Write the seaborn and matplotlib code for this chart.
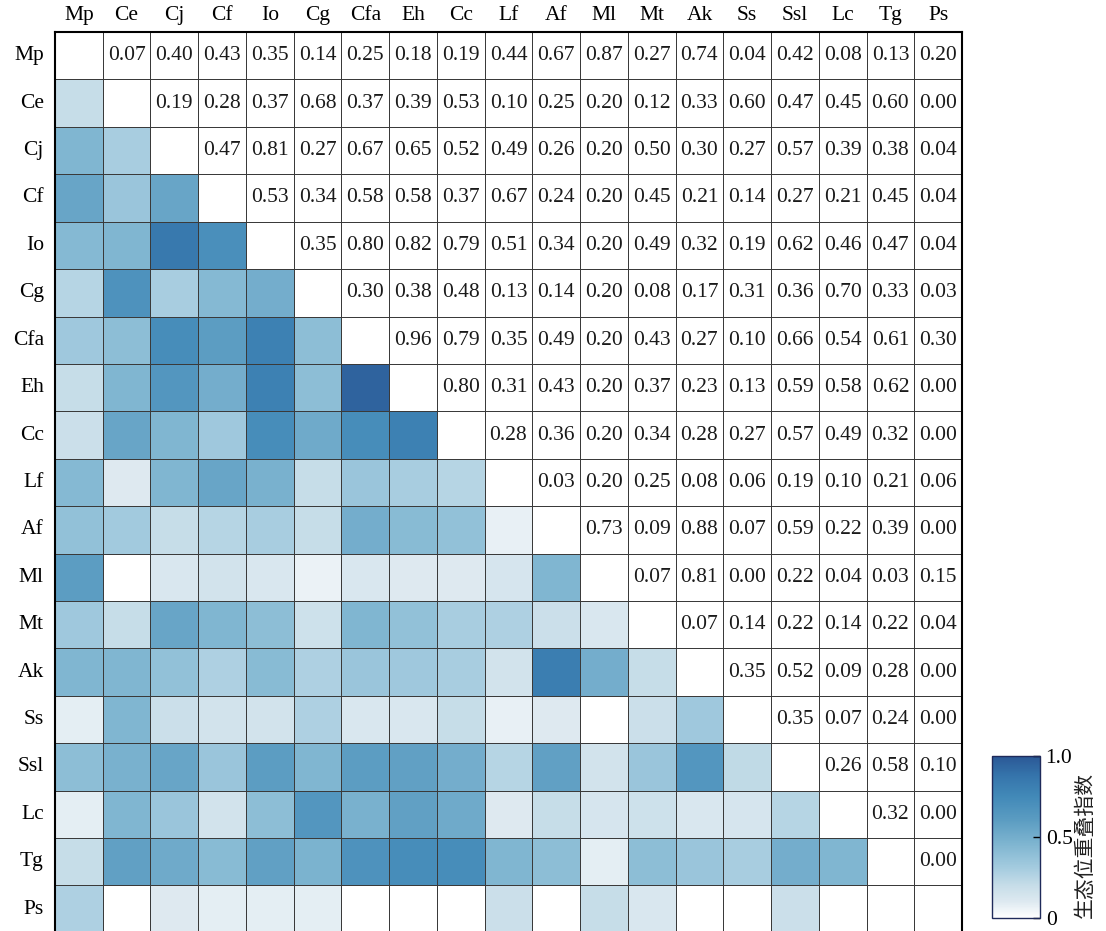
import numpy as np
import seaborn as sns
import matplotlib.pyplot as plt
from matplotlib.colors import LinearSegmentedColormap

# species codes (rows and columns)
species = ["Mp", "Ce", "Cj", "Cf", "Io", "Cg", "Cfa", "Eh", "Cc", "Lf",
           "Af", "Ml", "Mt", "Ak", "Ss", "Ssl", "Lc", "Tg", "Ps"]

# upper triangle: printed overlap values (row i, columns i+1..)
upper_rows = [
    [0.07, 0.40, 0.43, 0.35, 0.14, 0.25, 0.18, 0.19, 0.44, 0.67, 0.87, 0.27, 0.74, 0.04, 0.42, 0.08, 0.13, 0.20],
    [0.19, 0.28, 0.37, 0.68, 0.37, 0.39, 0.53, 0.10, 0.25, 0.20, 0.12, 0.33, 0.60, 0.47, 0.45, 0.60, 0.00],
    [0.47, 0.81, 0.27, 0.67, 0.65, 0.52, 0.49, 0.26, 0.20, 0.50, 0.30, 0.27, 0.57, 0.39, 0.38, 0.04],
    [0.53, 0.34, 0.58, 0.58, 0.37, 0.67, 0.24, 0.20, 0.45, 0.21, 0.14, 0.27, 0.21, 0.45, 0.04],
    [0.35, 0.80, 0.82, 0.79, 0.51, 0.34, 0.20, 0.49, 0.32, 0.19, 0.62, 0.46, 0.47, 0.04],
    [0.30, 0.38, 0.48, 0.13, 0.14, 0.20, 0.08, 0.17, 0.31, 0.36, 0.70, 0.33, 0.03],
    [0.96, 0.79, 0.35, 0.49, 0.20, 0.43, 0.27, 0.10, 0.66, 0.54, 0.61, 0.30],
    [0.80, 0.31, 0.43, 0.20, 0.37, 0.23, 0.13, 0.59, 0.58, 0.62, 0.00],
    [0.28, 0.36, 0.20, 0.34, 0.28, 0.27, 0.57, 0.49, 0.32, 0.00],
    [0.03, 0.20, 0.25, 0.08, 0.06, 0.19, 0.10, 0.21, 0.06],
    [0.73, 0.09, 0.88, 0.07, 0.59, 0.22, 0.39, 0.00],
    [0.07, 0.81, 0.00, 0.22, 0.04, 0.03, 0.15],
    [0.07, 0.14, 0.22, 0.14, 0.22, 0.04],
    [0.35, 0.52, 0.09, 0.28, 0.00],
    [0.35, 0.07, 0.24, 0.00],
    [0.26, 0.58, 0.10],
    [0.32, 0.00],
    [0.00],
]

# lower triangle: colour-coded values (row i, columns 0..i-1)
lower_rows = [
    [],
    [0.20],
    [0.45, 0.30],
    [0.55, 0.35, 0.55],
    [0.43, 0.45, 0.85, 0.70],
    [0.25, 0.68, 0.30, 0.43, 0.50],
    [0.33, 0.40, 0.72, 0.60, 0.80, 0.40],
    [0.20, 0.45, 0.65, 0.50, 0.80, 0.40, 0.95],
    [0.18, 0.55, 0.45, 0.33, 0.72, 0.52, 0.72, 0.80],
    [0.43, 0.10, 0.45, 0.55, 0.48, 0.20, 0.35, 0.30, 0.25],
    [0.38, 0.32, 0.20, 0.25, 0.30, 0.20, 0.50, 0.42, 0.38, 0.07],
    [0.60, 0.00, 0.12, 0.15, 0.12, 0.06, 0.12, 0.10, 0.10, 0.13, 0.45],
    [0.33, 0.20, 0.55, 0.45, 0.40, 0.17, 0.45, 0.38, 0.30, 0.28, 0.18, 0.12],
    [0.45, 0.45, 0.38, 0.28, 0.42, 0.28, 0.35, 0.33, 0.30, 0.15, 0.82, 0.50, 0.20],
    [0.08, 0.45, 0.18, 0.15, 0.15, 0.28, 0.12, 0.12, 0.20, 0.07, 0.10, 0.00, 0.18, 0.33],
    [0.40, 0.48, 0.55, 0.35, 0.60, 0.45, 0.60, 0.58, 0.50, 0.25, 0.58, 0.15, 0.35, 0.65, 0.22],
    [0.08, 0.45, 0.35, 0.15, 0.40, 0.65, 0.48, 0.58, 0.52, 0.10, 0.20, 0.13, 0.17, 0.12, 0.13, 0.25],
    [0.20, 0.58, 0.52, 0.42, 0.58, 0.47, 0.68, 0.72, 0.72, 0.45, 0.40, 0.08, 0.40, 0.35, 0.30, 0.50, 0.45],
    [0.28, 0.00, 0.10, 0.08, 0.08, 0.08, 0.00, 0.00, 0.00, 0.18, 0.00, 0.20, 0.12, 0.00, 0.00, 0.18, 0.00, 0.00],
]

n = len(species)
colour_vals = np.zeros((n, n))
annot_text = np.full((n, n), "", dtype=object)
for i in range(n):
    for j, v in enumerate(lower_rows[i]):
        colour_vals[i, j] = v
    if i < n - 1:
        for k, v in enumerate(upper_rows[i]):
            annot_text[i, i + 1 + k] = f"{v:.2f}"

cmap = LinearSegmentedColormap.from_list("overlap", [
    (0.0, "#ffffff"), (0.1, "#dde9f0"), (0.2, "#c6dde8"), (0.3, "#a7cde0"),
    (0.45, "#80b6d1"), (0.6, "#5c9dc2"), (0.75, "#4289b8"), (0.88, "#3574ab"),
    (1.0, "#2b5896")])

serif = "Liberation Serif"
fig = plt.figure(figsize=(11.06, 9.31), dpi=100)
ax = fig.add_axes([0.0497, -0.002, 0.8201, 0.9676])
cax = fig.add_axes([0.897, 0.014, 0.0434, 0.174])

sns.heatmap(colour_vals, cmap=cmap, vmin=0, vmax=1, annot=annot_text, fmt="",
            annot_kws=dict(fontsize=15.5, color="#1a1a1a", family=serif),
            linewidths=0.5, linecolor="#3a3a3a", cbar_ax=cax,
            xticklabels=species, yticklabels=species, ax=ax)

ax.xaxis.tick_top()
ax.tick_params(length=0)
ax.tick_params(axis="x", pad=5)
ax.tick_params(axis="y", pad=8)
for lab in ax.get_xticklabels():
    lab.set_fontfamily(serif)
    lab.set_fontsize(15.5)
    lab.set_rotation(0)
for lab in ax.get_yticklabels():
    lab.set_fontfamily(serif)
    lab.set_fontsize(15.5)
    lab.set_rotation(0)
for side in ["left", "top", "right"]:
    ax.spines[side].set_visible(True)
    ax.spines[side].set_linewidth(1.5)
    ax.spines[side].set_color("black")

cbar = ax.collections[0].colorbar
cbar.set_ticks([0, 0.5, 1.0])
cbar.set_ticklabels(["0", "0.5", "1.0"], fontfamily=serif, fontsize=15.5)
cax.tick_params(direction="in", length=5, width=1, pad=4)
cbar.outline.set_visible(True)
cbar.outline.set_edgecolor("#1f2a5a")
cbar.outline.set_linewidth(1)

fig.text(1085 / 1106, 0.092, "生态位重叠指数", rotation=90, ha="center", va="center",
         fontsize=15, family=["Noto Sans CJK SC", "DejaVu Sans"], color="#222222")

fig.savefig("out.png", dpi=100)
